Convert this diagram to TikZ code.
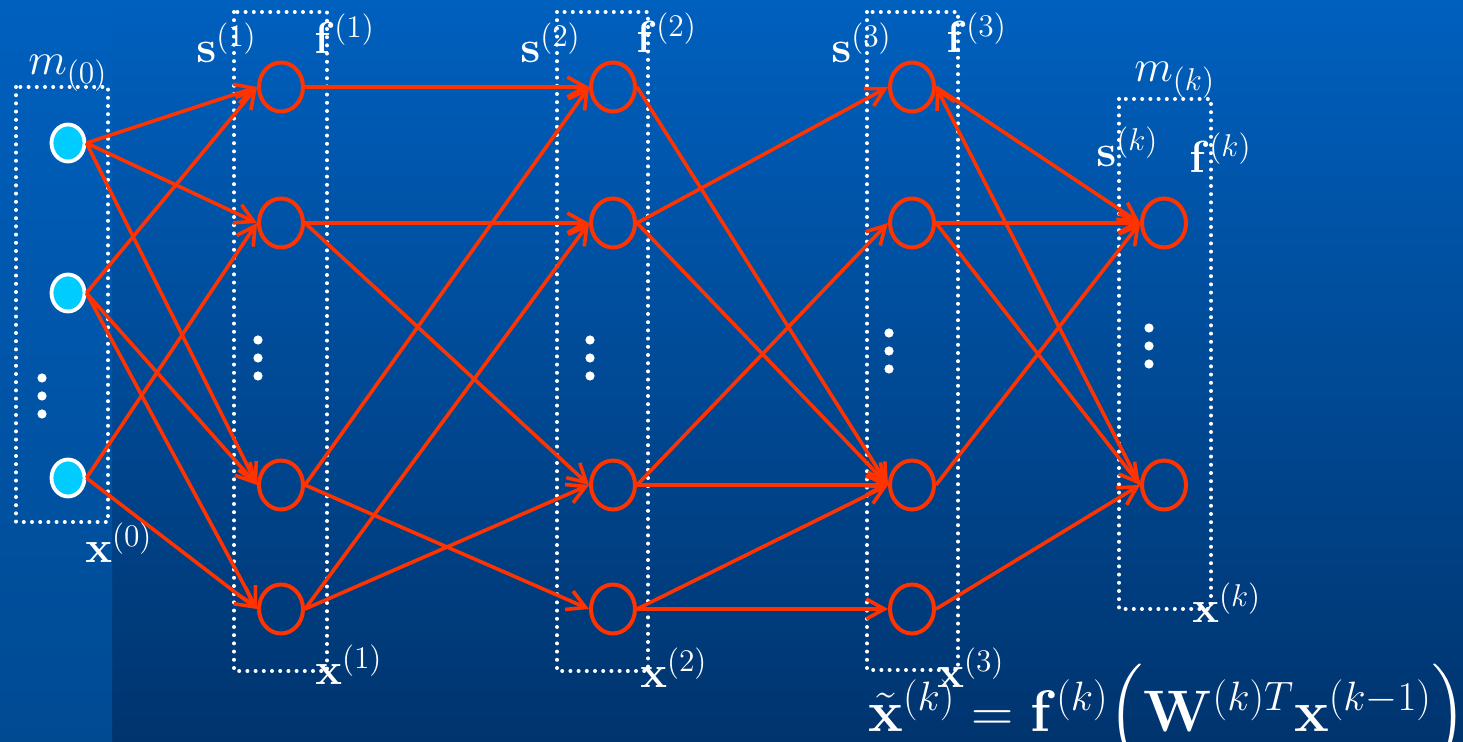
\documentclass[tikz,border=0pt]{standalone}
\usepackage{fix-cm}
\usepackage{amsmath,amssymb}
\usepackage{tikz}
\usetikzlibrary{arrows.meta,shapes.geometric}

\definecolor{slidetop}{RGB}{0,96,190}
\definecolor{slidebot}{RGB}{0,52,110}
\definecolor{stripbot}{RGB}{0,74,146}
\definecolor{netred}{RGB}{255,51,0}
\definecolor{incyan}{RGB}{0,204,255}

\tikzset{
  unit/.style={ellipse, draw=netred, line width=2pt, minimum width=22pt, minimum height=24.5pt, inner sep=0pt},
  input/.style={ellipse, draw=white, fill=incyan, line width=1.9pt, minimum width=16.5pt, minimum height=18.5pt, inner sep=0pt},
  layerbox/.style={draw=white, line width=2pt, line cap=round, dash pattern=on 0pt off 4.1pt},
  wire/.style={draw=netred, line width=1.8pt, -{Straight Barb[length=9pt,width=10pt]}},
  lab/.style={text=white, anchor=base west, inner sep=0pt, font=\fontsize{22.5}{27}\selectfont},
}

\begin{document}
\begin{tikzpicture}[x=0.5pt, y=-0.5pt]

		% background
		\useasboundingbox (0,0) rectangle (1463,742);
		\shade[top color=slidetop, bottom color=slidebot] (0,0) rectangle (1463,742);
		\shade[top color=slidetop, bottom color=stripbot] (0,0) rectangle (112,742);
		
		% layer boxes
		\draw[layerbox] (16,87) rectangle (108,522);
		\draw[layerbox] (234,12) rectangle (327,671);
		\draw[layerbox] (557,12) rectangle (648,671);
		\draw[layerbox] (867,12) rectangle (958,670);
		\draw[layerbox] (1119,99) rectangle (1211,609);
		
		% input layer
		\node[input] (x0a) at (68,143) {};
		\node[input] (x0b) at (68,293) {};
		\node[input] (x0c) at (68,478) {};
		
		% hidden layers
		\node[unit] (x1a) at (281,87) {};
		\node[unit] (x1b) at (281,223) {};
		\node[unit] (x1c) at (281,485) {};
		\node[unit] (x1d) at (281,609) {};
		
		\node[unit] (x2a) at (613,87) {};
		\node[unit] (x2b) at (613,223) {};
		\node[unit] (x2c) at (613,485) {};
		\node[unit] (x2d) at (613,609) {};
		
		\node[unit] (x3a) at (912,87) {};
		\node[unit] (x3b) at (912,223) {};
		\node[unit] (x3c) at (912,485) {};
		\node[unit] (x3d) at (912,609) {};
		
		% output layer
		\node[unit] (xka) at (1164,223) {};
		\node[unit] (xkb) at (1164,485) {};
		
		% vertical dots
		\fill[white] (42,378) circle (2.3pt) (42,396) circle (2.3pt) (42,414) circle (2.3pt);
		\fill[white] (258,340) circle (2.3pt) (258,358) circle (2.3pt) (258,376) circle (2.3pt);
		\fill[white] (590,340) circle (2.3pt) (590,358) circle (2.3pt) (590,376) circle (2.3pt);
		\fill[white] (889,333) circle (2.3pt) (889,351) circle (2.3pt) (889,369) circle (2.3pt);
		\fill[white] (1149,328) circle (2.3pt) (1149,346) circle (2.3pt) (1149,364) circle (2.3pt);
		
		% weights, layer 0 to 1
		\draw[wire] (x0a.east) -- (x1a.west);
		\draw[wire] (x0a.east) -- (x1b.west);
		\draw[wire] (x0a.east) -- (x1c.west);
		\draw[wire] (x0b.east) -- (x1a.west);
		\draw[wire] (x0b.east) -- (x1c.west);
		\draw[wire] (x0b.east) -- (x1d.west);
		\draw[wire] (x0c.east) -- (x1b.west);
		\draw[wire] (x0c.east) -- (x1d.west);
		
		% weights, layer 1 to 2
		\draw[wire] (x1a.east) -- (x2a.west);
		\draw[wire] (x1b.east) -- (x2b.west);
		\draw[wire] (x1b.east) -- (x2c.west);
		\draw[wire] (x1c.east) -- (x2a.west);
		\draw[wire] (x1c.east) -- (x2d.west);
		\draw[wire] (x1d.east) -- (x2b.west);
		\draw[wire] (x1d.east) -- (x2c.west);
		
		% weights, layer 2 to 3
		\draw[wire] (x2a.east) -- (x3c.west);
		\draw[wire] (x2b.east) -- (x3a.west);
		\draw[wire] (x2b.east) -- (x3c.west);
		\draw[wire] (x2c.east) -- (x3b.west);
		\draw[wire] (x2c.east) -- (x3c.west);
		\draw[wire] (x2d.east) -- (x3c.west);
		\draw[wire] (x2d.east) -- (x3d.west);
		
		% weights, layer 3 to k
		\draw[wire] (x3a.east) -- (xka.west);
		\draw[wire, {Straight Barb[length=9pt,width=10pt]}-] (x3a.east) -- (xkb.west);
		\draw[wire] (x3b.east) -- (xka.west);
		\draw[wire] (x3b.east) -- (xkb.west);
		\draw[wire] (x3c.east) -- (xka.west);
		\draw[wire] (x3d.east) -- (xkb.west);
		
		% labels
		\node[lab] (m0) at (28,75) {$m_{(0)}$};
		\node[lab] (mk) at (1134,82) {$m_{(k)}$};
		\node[lab] (s1) at (196,63) {$\mathbf{s}^{(1)}$};
		\node[lab] (f1) at (314,54) {$\mathbf{f}^{(1)}$};
		\node[lab] (s2) at (520,63) {$\mathbf{s}^{(2)}$};
		\node[lab] (f2) at (636,53) {$\mathbf{f}^{(2)}$};
		\node[lab] (s3) at (831,63) {$\mathbf{s}^{(3)}$};
		\node[lab] (f3) at (946,53) {$\mathbf{f}^{(3)}$};
		\node[lab] (sk) at (1096,167) {$\mathbf{s}^{(k)}$};
		\node[lab] (fk) at (1189,173) {$\mathbf{f}^{(k)}$};
		\node[lab] (l0) at (85,563) {$\mathbf{x}^{(0)}$};
		\node[lab] (l1) at (315,685) {$\mathbf{x}^{(1)}$};
		\node[lab] (l2) at (640,688) {$\mathbf{x}^{(2)}$};
		\node[lab] (l3) at (937,688) {$\mathbf{x}^{(3)}$};
		\node[lab] (lk) at (1192,623) {$\mathbf{x}^{(k)}$};
		
		% layer rule
		\node[lab, font=\fontsize{29.3}{35}\selectfont] (rule) at (868,732)
		{$\tilde{\mathbf{x}}^{(k)} = \mathbf{f}^{(k)}\Bigl(\mathbf{W}^{(k)T}\mathbf{x}^{(k-1)}\Bigr)$};
		
\end{tikzpicture}
\end{document}
